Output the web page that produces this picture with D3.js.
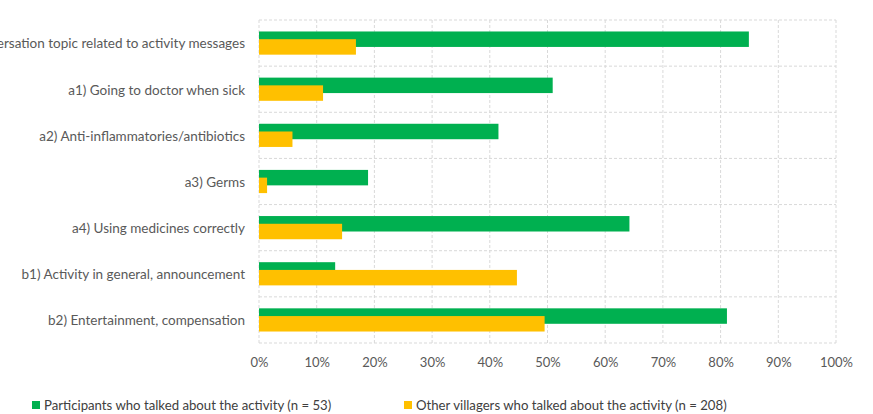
<!DOCTYPE html>
<html><head><meta charset="utf-8">
<script src="https://cdn.jsdelivr.net/npm/d3@7"></script>
<style>body{margin:0;background:#fff;} svg{display:block;}</style>
</head><body>
<svg id="c" width="873" height="414"></svg>
<script>
const categories = [
  "Conversation topic related to activity messages",
  "a1) Going to doctor when sick",
  "a2) Anti-inflammatories/antibiotics",
  "a3) Germs",
  "a4) Using medicines correctly",
  "b1) Activity in general, announcement",
  "b2) Entertainment, compensation"
];
const participants = [84.9, 50.9, 41.5, 18.9, 64.2, 13.2, 81.1];
const villagers = [16.8, 11.1, 5.8, 1.4, 14.4, 44.7, 49.5];
const seriesNames = ["Participants who talked about the activity (n = 53)", "Other villagers who talked about the activity (n = 208)"];
const colors = ["#00B050", "#FFC000"];
const xTicks = [0,10,20,30,40,50,60,70,80,90,100];

(function(){
const svg = d3.select("#c");
const font = "Lato, 'Open Sans', sans-serif";
const pL = 259, pR = 836, pT = 20, pB = 343;
const x = d3.scaleLinear().domain([0,100]).range([pL,pR]);
const y = d3.scaleBand().domain(categories).range([pT,pB]).padding(0);
const bw = y.bandwidth();
const barH = bw*0.335;

// gridlines
const g = svg.append("g");
g.selectAll("line.v").data(xTicks).join("line")
  .attr("x1", d=>x(d)).attr("x2", d=>x(d)).attr("y1", pT).attr("y2", pB)
  .attr("stroke","#d9d9d9").attr("stroke-width",1).attr("stroke-dasharray","3,2");
const hLines = categories.map(c=>y(c)).concat([pB]);
g.selectAll("line.h").data(hLines).join("line")
  .attr("x1", pL).attr("x2", pR).attr("y1", d=>d).attr("y2", d=>d)
  .attr("stroke","#d9d9d9").attr("stroke-width",1).attr("stroke-dasharray","3,2");

// bars
svg.append("g").selectAll("rect").data(categories).join("rect")
  .attr("x", x(0)).attr("y", d=>y(d)+bw/2-barH*0.75)
  .attr("width", (d,i)=>x(participants[i])-x(0)).attr("height", barH)
  .attr("fill", colors[0]);
svg.append("g").selectAll("rect").data(categories).join("rect")
  .attr("x", x(0)).attr("y", d=>y(d)+bw/2-barH*0.25)
  .attr("width", (d,i)=>x(villagers[i])-x(0)).attr("height", barH)
  .attr("fill", colors[1]);

// category labels
const yAxis = d3.axisLeft(y).tickSize(0).tickPadding(14);
const ya = svg.append("g").attr("transform",`translate(${pL},1)`).call(yAxis);
ya.select(".domain").remove();
ya.selectAll("text").attr("font-family",font).attr("font-size",13.5).attr("fill","#595959");

// x axis
const xAxis = d3.axisBottom(x).tickValues(xTicks).tickFormat(d=>d+"%").tickSize(0).tickPadding(15);
const xa = svg.append("g").attr("transform",`translate(0,${pB})`).call(xAxis);
xa.select(".domain").remove();
xa.selectAll("text").attr("font-family",font).attr("font-size",13).attr("fill","#595959");

// legend
const legX = [32, 404];
const leg = svg.append("g").selectAll("g").data(seriesNames).join("g")
  .attr("transform",(d,i)=>`translate(${legX[i]},401)`);
leg.append("rect").attr("width",8).attr("height",8).attr("fill",(d,i)=>colors[i]);
leg.append("text").attr("x",12).attr("y",4).attr("dy","0.35em")
  .attr("font-family",font).attr("font-size",13.2).attr("fill","#404040").text(d=>d);
})();
</script>
</body></html>
